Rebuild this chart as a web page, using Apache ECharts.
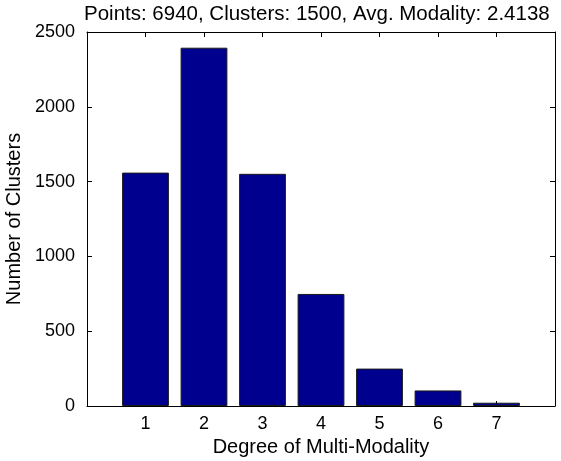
<!DOCTYPE html>
<html>
<head>
<meta charset="utf-8">
<script src="https://cdn.jsdelivr.net/npm/echarts@6/dist/echarts.min.js"></script>
<style>html,body{margin:0;padding:0;background:#fff}#c{width:561px;height:461px}</style>
</head>
<body>
<div id="c"></div>
<script>
const categories = [1, 2, 3, 4, 5, 6, 7];
const clusterCounts = [1560, 2395, 1552, 749, 250, 104, 22];
const yTicks = [0, 500, 1000, 1500, 2000, 2500];
const titleText = 'Points: 6940, Clusters: 1500, Avg. Modality: 2.4138';
const xName = 'Degree of Multi-Modality';
const yName = 'Number of Clusters';

const FONT = 'Liberation Sans, Arial, sans-serif';
const chart = echarts.init(document.getElementById('c'), null, {renderer: 'canvas'});
const tickStyle = {show: true, inside: true, length: 5, lineStyle: {color: '#000', width: 1}};
const lineStyle = {show: true, onZero: false, lineStyle: {color: '#000', width: 1}};
chart.setOption({
  animation: false,
  backgroundColor: '#fff',
  title: {
    text: titleText,
    left: 79, top: -1,
    textStyle: {fontFamily: FONT, fontSize: 20.5, fontWeight: 'normal', color: '#000'}
  },
  grid: {left: 87, right: 6, top: 32, bottom: 55, containLabel: false, outerBoundsMode: 'none'},
  xAxis: [{
    type: 'value', min: 0, max: 8, interval: 1, position: 'bottom',
    name: xName, nameLocation: 'middle', nameGap: 29,
    nameTextStyle: {fontFamily: FONT, fontSize: 20, color: '#000', verticalAlign: 'top'},
    axisLine: lineStyle, axisTick: tickStyle, splitLine: {show: false},
    axisLabel: {fontFamily: FONT, fontSize: 18, color: '#000', margin: 9,
      showMinLabel: false, showMaxLabel: false,
      formatter: v => categories.includes(v) ? String(v) : ''}
  }, {
    type: 'value', min: 0, max: 8, interval: 1, position: 'top',
    axisLine: lineStyle, axisTick: tickStyle, splitLine: {show: false}, axisLabel: {show: false}
  }],
  yAxis: [{
    type: 'value', min: yTicks[0], max: yTicks[yTicks.length - 1], interval: 500, position: 'left',
    name: yName, nameLocation: 'middle', nameGap: 55, nameRotate: 90,
    nameTextStyle: {fontFamily: FONT, fontSize: 20, color: '#000'},
    axisLine: lineStyle, axisTick: tickStyle, splitLine: {show: false},
    axisLabel: {fontFamily: FONT, fontSize: 18, color: '#000', margin: 12,
      formatter: v => String(v)}
  }, {
    type: 'value', min: yTicks[0], max: yTicks[yTicks.length - 1], interval: 500, position: 'right',
    axisLine: lineStyle, axisTick: tickStyle, splitLine: {show: false}, axisLabel: {show: false}
  }],
  series: [{
    type: 'bar',
    xAxisIndex: 0, yAxisIndex: 0,
    barWidth: '80%',
    data: categories.map((c, i) => [c, clusterCounts[i]]),
    itemStyle: {color: '#00008F', borderColor: '#1a1a1a', borderWidth: 1}
  }]
});
</script>
</body>
</html>
